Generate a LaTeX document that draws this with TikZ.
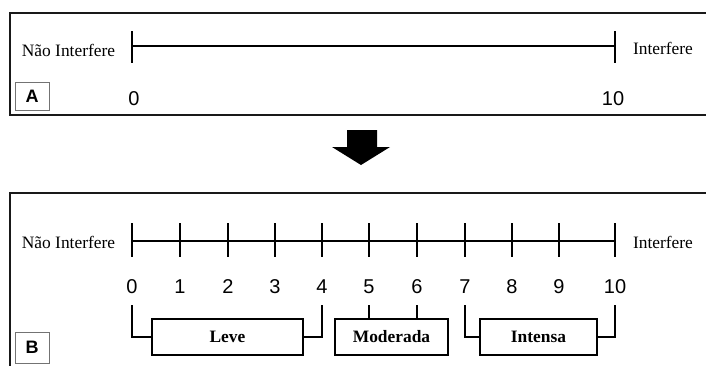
\documentclass[tikz,border=0pt]{standalone}
\usepackage{fontspec}
\setmainfont{Liberation Serif}
\newfontfamily\arialf{Liberation Sans}
\begin{document}
\begin{tikzpicture}[x=1pt,y=-1pt,
  frame/.style={line width=2pt,draw=black!90},
  scaleline/.style={line width=1.8pt,draw=black},
  tickline/.style={line width=1.6pt,draw=black},
  endlabel/.style={font=\fontsize{17.4}{20}\selectfont,inner sep=0pt,anchor=base},
  num/.style={font=\arialf\fontsize{20}{22}\selectfont,inner sep=0pt,anchor=base},
  catbox/.style={draw=black,line width=2.2pt,inner sep=0pt,minimum height=36pt,font=\bfseries\fontsize{17.4}{20}\selectfont},
  tagbox/.style={draw=black!55,line width=0.9pt,inner sep=0pt,minimum width=34pt,font=\arialf\bfseries\fontsize{18}{20}\selectfont},
  bracket/.style={line width=1.8pt,draw=black}]
\useasboundingbox (0,0) rectangle (706,365);
% Panel A
\draw[frame] (706,13) -- (10,13) -- (10,115) -- (706,115);
\coordinate (a0) at (132,46);
\coordinate (a10) at (615,46);
\draw[scaleline] (a0) -- (a10);
\draw[tickline] (a0) ++(0,-15) -- ++(0,32);
\draw[tickline] (a10) ++(0,-15) -- ++(0,32);
\node[endlabel] (anao) at (68.5,56) {Não Interfere};
\node[endlabel] (aint) at (663,54) {Interfere};
\node[num] (an0) at (134,105) {0};
\node[num] (an10) at (613,105) {10};
\node[tagbox,minimum height=28pt] (tagA) at (32,96) {A};
% Arrow
\fill[black] (347,130) -- (377,130) -- (377,147) -- (390,147) -- (361,165) -- (332,147) -- (347,147) -- cycle;
% Panel B
\draw[frame] (706,193) -- (10,193) -- (10,366);
\foreach \i/\x in {0/132,1/180,2/228,3/275,4/322,5/369,6/417,7/465,8/512,9/559,10/615}{
  \coordinate (t\i) at (\x,241);
  \coordinate (b\i) at (\x,305);
  \draw[tickline] (t\i) ++(0,-18) -- ++(0,34);
  \node[num] (n\i) at (\x,293) {\i};
}
\draw[scaleline] (t0) -- (t10);
\node[endlabel] (bnao) at (68.5,248) {Não Interfere};
\node[endlabel] (bint) at (663,248) {Interfere};
\node[tagbox,minimum height=31pt] (tagB) at (32,347.5) {B};
\node[catbox,minimum width=151pt] (leve) at (227.5,337) {Leve};
\node[catbox,minimum width=113pt] (mod) at (391.5,337) {Moderada};
\node[catbox,minimum width=117pt] (int) at (538.5,337) {Intensa};
\draw[bracket] (b0) -- (b0 |- leve.west) -- (leve.west);
\draw[bracket] (leve.east) -- (b4 |- leve.east) -- (b4);
\draw[bracket] (b5) -- (b5 |- mod.north);
\draw[bracket] (b6) -- (b6 |- mod.north);
\draw[bracket] (b7) -- (b7 |- int.west) -- (int.west);
\draw[bracket] (int.east) -- (b10 |- int.east) -- (b10);
\end{tikzpicture}
\end{document}
